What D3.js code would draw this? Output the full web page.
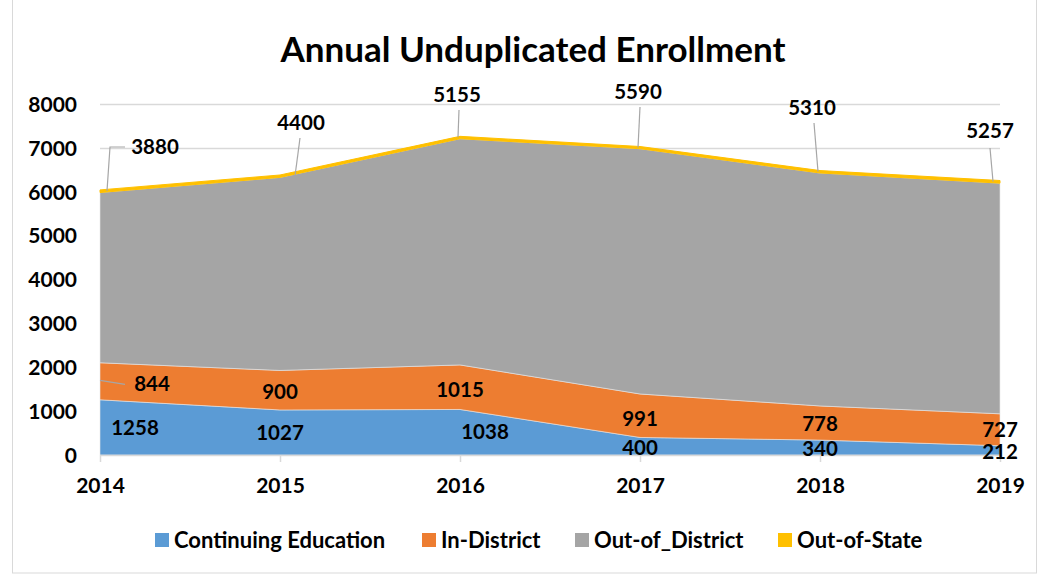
<!DOCTYPE html>
<html>
<head>
<meta charset="utf-8">
<script src="https://cdn.jsdelivr.net/npm/d3@7"></script>
<style>
  body { margin: 0; background: #fff; }
  svg { font-family: Lato, "Open Sans", sans-serif; font-weight: bold; }
</style>
</head>
<body>
<svg class="chart" width="1038" height="575"></svg>
<script>
const years = ["2014", "2015", "2016", "2017", "2018", "2019"];
const seriesNames = ["Continuing Education", "In-District", "Out-of_District", "Out-of-State"];
const continuingEd = [1258, 1027, 1038, 400, 340, 212];
const inDistrict = [844, 900, 1015, 991, 778, 727];
const outOfDistrict = [3880, 4400, 5155, 5590, 5310, 5257];
const outOfState = [60, 55, 55, 50, 55, 60];
const yTicks = [0, 1000, 2000, 3000, 4000, 5000, 6000, 7000, 8000];

const colors = ["#5B9BD5", "#ED7D31", "#A5A5A5", "#FFC000"];

// rows for d3.stack
const rows = years.map((yr, i) => ({
  year: yr,
  "Continuing Education": continuingEd[i],
  "In-District": inDistrict[i],
  "Out-of_District": outOfDistrict[i],
  "Out-of-State": outOfState[i]
}));

const svg = d3.select(".chart");

// outer border
svg.append("rect")
   .attr("x", 12.5).attr("y", -1)
   .attr("width", 1024).attr("height", 574)
   .style("fill", "none")
   .style("stroke", "#D9D9D9");

let x = d3.scalePoint()
          .domain(years)
          .range([100, 1000]);

let y = d3.scaleLinear()
          .domain([0, 8000])
          .range([455, 104]);

// Title
svg.append("text")
   .attr("x", 533).attr("y", 62)
   .style("text-anchor", "middle")
   .style("font-size", "35px")
   .text("Annual Unduplicated Enrollment");

// gridlines
svg.append("g").selectAll("line")
   .data(yTicks.slice(1))
   .enter().append("line")
   .attr("x1", 100).attr("x2", 1000)
   .attr("y1", (d) => Math.round(y(d)) + 0.5)
   .attr("y2", (d) => Math.round(y(d)) + 0.5)
   .style("stroke", "#D9D9D9")
   .style("stroke-width", 1.5);

// stacked areas
let stack = d3.stack().keys(seriesNames);
let layers = stack(rows);

let area = d3.area()
             .x((d) => x(d.data.year))
             .y0((d) => y(d[0]))
             .y1((d) => y(d[1]));

svg.append("g").selectAll("path")
   .data(layers)
   .enter().append("path")
   .attr("d", area)
   .style("fill", (d, i) => colors[i])
   .style("stroke", (d, i) => i === 3 ? colors[3] : "#E8E8E8")
   .style("stroke-width", (d, i) => i === 3 ? 1 : 0.6);

// x baseline
svg.append("line")
   .attr("x1", 100).attr("x2", 1000)
   .attr("y1", y(0) + 0.5).attr("y2", y(0) + 0.5)
   .style("stroke", "#D9D9D9")
   .style("stroke-width", 1.5);

// x tick marks
svg.append("g").selectAll("line")
   .data(years)
   .enter().append("line")
   .attr("x1", (d) => Math.round(x(d)) + 0.5)
   .attr("x2", (d) => Math.round(x(d)) + 0.5)
   .attr("y1", y(0)).attr("y2", y(0) + 7)
   .style("stroke", "#D9D9D9")
   .style("stroke-width", 1.5);

// y axis
let yAxis = d3.axisLeft(y).tickValues(yTicks).tickFormat(d3.format("d")).tickSize(0).tickPadding(0);
let yG = svg.append("g")
   .attr("transform", "translate(77,0)")
   .call(yAxis);
yG.select(".domain").remove();
yG.selectAll("text")
  .style("font-family", "Lato, sans-serif")
  .style("font-weight", "bold")
  .style("font-size", "21px")
  .attr("dy", "0.35em")
  .attr("fill", "#000");

// x axis
let xAxis = d3.axisBottom(x).tickSize(0).tickPadding(0);
let xG = svg.append("g")
   .attr("transform", "translate(0,486)")
   .call(xAxis);
xG.select(".domain").remove();
xG.selectAll("text")
  .style("font-family", "Lato, sans-serif")
  .style("font-weight", "bold")
  .style("font-size", "21px")
  .attr("dy", "0.35em")
  .attr("fill", "#000");

// data labels: offsets (px) from the middle of each band, as placed in the original
const ceOffsets = [[35, 0], [0, 0], [25, 0], [0, 2], [0, 1.5], [0, 1.5]];
const idOffsets = [[52, 3], [0, 2], [0, 3], [0, 3], [0, 1], [0, 0]];
const labels = svg.append("g").style("font-size", "20.5px");

function bandMid(layer, i) { return y((layer[i][0] + layer[i][1]) / 2); }

years.forEach((yr, i) => {
  labels.append("text")
    .attr("x", x(yr) + ceOffsets[i][0])
    .attr("y", bandMid(layers[0], i) + ceOffsets[i][1])
    .attr("dy", "0.35em")
    .style("text-anchor", "middle")
    .text(continuingEd[i]);
  labels.append("text")
    .attr("x", x(yr) + idOffsets[i][0])
    .attr("y", bandMid(layers[1], i) + idOffsets[i][1])
    .attr("dy", "0.35em")
    .style("text-anchor", "middle")
    .text(inDistrict[i]);
});

// leader for 844
{
  const ly = bandMid(layers[1], 0);
  svg.append("path")
     .attr("d", "M" + (x("2014")) + "," + (ly - 1) + " L" + (x("2014") + 25) + "," + (ly + 3))
     .style("stroke", "#A6A6A6").style("stroke-width", 1.2).style("fill", "none");
}

// Out-of_District labels sit above the top with leader lines
const oodLabelY = [147, 123, 95, 92, 108, 131];
const oodLabelDx = [55, 21, -3, -2, -8, -10];
years.forEach((yr, i) => {
  const topY = y(layers[3][i][1]);
  const lx = x(yr) + oodLabelDx[i];
  const ly = oodLabelY[i];
  let d;
  if (i === 0) {
    d = "M" + (x(yr) + 7) + "," + (topY + 1) + " L" + (x(yr) + 10) + "," + ly + " L" + (x(yr) + 25) + "," + ly;
  } else if (i === 5) {
    d = "M" + (x(yr) - 7) + "," + (topY + 1) + " L" + (x(yr) - 10) + "," + (ly + 17);
  } else {
    d = "M" + (x(yr) + (i === 1 ? 15 : -2)) + "," + (topY + 1) + " L" + (lx + (i === 1 ? -1 : 2)) + "," + (ly + 15);
  }
  svg.append("path").attr("d", d)
     .style("stroke", "#A6A6A6").style("stroke-width", 1.2).style("fill", "none");
  labels.append("text")
    .attr("x", lx)
    .attr("y", ly)
    .attr("dy", "0.35em")
    .style("text-anchor", "middle")
    .text(outOfDistrict[i]);
});

// Legend
const legendX = [155, 422, 575, 778];
const legend = svg.append("g").selectAll("g")
   .data(seriesNames)
   .enter().append("g")
   .attr("transform", (d, i) => "translate(" + legendX[i] + ",540)");
legend.append("rect")
   .attr("x", 0).attr("y", -7)
   .attr("width", 14).attr("height", 14)
   .style("fill", (d, i) => colors[i]);
legend.append("text")
   .attr("x", 19).attr("y", 0)
   .attr("dy", "0.35em")
   .style("font-size", "22px")
   .text((d) => d);
</script>
</body>
</html>
